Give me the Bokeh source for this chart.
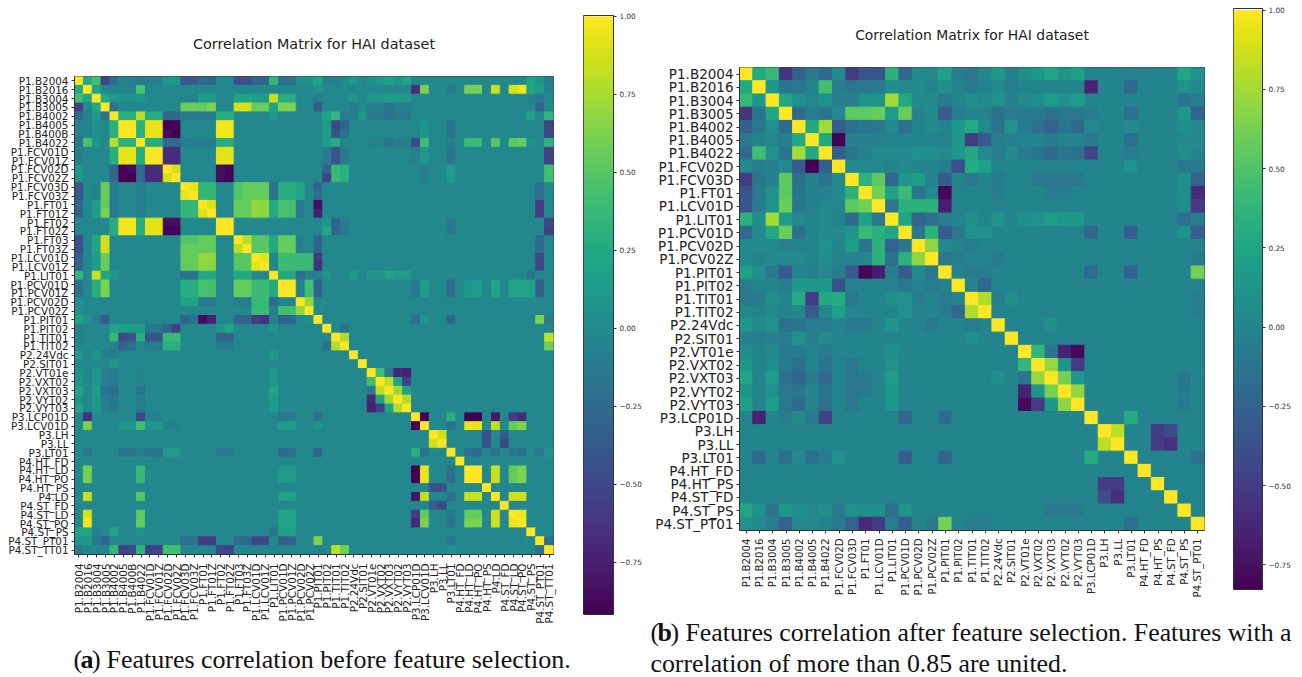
import math
import numpy as np
from bokeh.embed import file_html
from bokeh.resources import INLINE
from bokeh.plotting import figure
from bokeh.layouts import row, column
from bokeh.models import (ColumnDataSource, FactorRange, FixedTicker, Label,
                          LinearColorMapper, LinearAxis, Range1d)
from bokeh.palettes import Viridis256

labels_a = ["P1.B2004","P1.B2016","P1.B3004","P1.B3005","P1.B4002","P1.B4005","P1.B400B","P1.B4022",
    "P1.FCV01D","P1.FCV01Z","P1.FCV02D","P1.FCV02Z","P1.FCV03D","P1.FCV03Z","P1.FT01","P1.FT01Z",
    "P1.FT02","P1.FT02Z","P1.FT03","P1.FT03Z","P1.LCV01D","P1.LCV01Z","P1.LIT01","P1.PCV01D","P1.PCV01Z",
    "P1.PCV02D","P1.PCV02Z","P1.PIT01","P1.PIT02","P1.TIT01","P1.TIT02","P2.24Vdc","P2.SIT01","P2.VT01e",
    "P2.VXT02","P2.VXT03","P2.VYT02","P2.VYT03","P3.LCP01D","P3.LCV01D","P3.LH","P3.LL","P3.LT01",
    "P4.HT_FD","P4.HT_LD","P4.HT_PO","P4.HT_PS","P4.LD","P4.ST_FD","P4.ST_LD","P4.ST_PO","P4.ST_PS",
    "P4.ST_PT01","P4.ST_TT01"]
labels_b = ["P1.B2004","P1.B2016","P1.B3004","P1.B3005","P1.B4002","P1.B4005","P1.B4022","P1.FCV02D",
    "P1.FCV03D","P1.FT01","P1.LCV01D","P1.LIT01","P1.PCV01D","P1.PCV02D","P1.PCV02Z","P1.PIT01","P1.PIT02",
    "P1.TIT01","P1.TIT02","P2.24Vdc","P2.SIT01","P2.VT01e","P2.VXT02","P2.VXT03","P2.VYT02","P2.VYT03",
    "P3.LCP01D","P3.LH","P3.LL","P3.LT01","P4.HT_FD","P4.HT_PS","P4.ST_FD","P4.ST_PS","P4.ST_PT01"]

background_a = -0.02
background_b = 0.0
low_a, low_b = -0.917, -0.828
cbar_ticks = [-0.75, -0.5, -0.25, 0.0, 0.25, 0.5, 0.75, 1.0]
cbar_labels = {-0.75: "\u22120.75", -0.5: "\u22120.50", -0.25: "\u22120.25", 0.0: "0.00",
               0.25: "0.25", 0.5: "0.50", 0.75: "0.75", 1.0: "1.00"}

# (rows, cols, correlation), upper triangle only
cells_a = [
 ((0,),(1,),.25),((0,),(2,),.42),((0,),(3,),-.55),((0,),(4,),-.25),((0,),(5,6),-.08),((0,),(7,),-.15),((0,),(8,9),-.1),
 ((0,),(10,11),.1),((0,),(12,13),-.4),((0,),(14,),-.25),((0,),(15,),-.3),((0,),(18,19),-.45),((0,),(20,21),-.3),((0,),(22,),.35),
 ((0,),(23,24),-.2),((0,),(25,26),.05),((0,),(27,),.2),((0,),(28,29),-.08),((0,),(31,),.12),((0,),(33,),.05),((0,),(34,),.08),
 ((0,),(35,),.2),((0,),(36,),.1),((0,),(37,),.2),((0,),(51,),.2),((0,),(52,),.1),((0,),(53,),-.12),
 ((1,),(2,),.2),((1,),(4,5,6),-.05),((1,),(7,),.45),((1,),(27,),.05),((1,),(38,),-.65),((1,),(39,),.62),((1,),(42,),-.15),
 ((1,),(44,45),.6),((1,),(47,),.85),((1,),(49,),.9),((1,),(50,),.96),((1,),(51,),.2),((1,),(52,),.12),((1,),(53,),-.05),
 ((2,),(3,),.25),((2,),(4,),.12),((2,),(5,6),.05),((2,),(7,),.1),((2,),(12,13),-.05),((2,),(14,15),.15),((2,),(18,19),.2),
 ((2,),(20,21),.15),((2,),(22,),.85),((2,),(23,24),.28),((2,),(27,),-.1),((2,),(31,),.1),((2,),(33,34),.08),((2,),(35,),.15),
 ((2,),(36,37),.13),((2,),(51,),-.08),((2,),(52,),-.15),
 ((3,),(4,),-.2),((3,),(12,13),.56),((3,),(14,),.55),((3,),(15,),.62),((3,),(18,19),.88),((3,),(20,21),.57),((3,),(22,),.2),
 ((3,),(23,24),.62),((3,),(27,),-.35),((3,),(31,),-.1),((3,),(33,34,36,37),-.1),((3,),(35,),-.17),((3,),(52,),-.3),
 ((4,),(5,6),.3),((4,),(7,),.8),((4,),(8,9),.28),((4,),(10,11),-.28),((4,),(12,13,14,15),-.12),((4,),(16,17),.28),((4,),(22,),.1),
 ((4,),(28,),.2),((4,),(29,),.35),((4,),(30,),-.1),((4,),(31,),-.1),((4,),(32,),.1),((4,),(33,34),-.12),((4,),(35,),-.22),
 ((4,),(36,37),-.15),((4,),(51,),.2),((4,),(53,),.35),
 ((5,),(6,),.99),((5,6),(7,),.3),((5,6),(8,9),.93),((5,),(10,),-.92),((5,),(11,),-.88),((6,),(10,),-.85),((6,),(11,),-.92),
 ((5,6),(16,17),.97),((5,6),(28,),.15),((5,),(29,),-.5),((6,),(29,),-.42),((5,),(30,),-.3),((6,),(30,),-.2),((5,6),(39,),.08),
 ((5,6),(42,),-.17),((5,),(53,),-.55),((6,),(53,),-.5),
 ((7,),(8,9),.28),((7,),(10,11),-.25),((7,),(12,13,14,15),-.1),((7,),(16,17),.28),((7,),(28,),.15),((7,),(29,),.28),
 ((7,),(33,34),-.07),((7,),(35,),-.17),((7,),(36,37),-.1),((7,),(38,),-.5),((7,),(39,),.42),((7,),(42,),-.1),((7,),(44,45),.38),
 ((7,),(47,),.5),((7,),(49,),.52),((7,),(50,),.55),((7,),(51,),.05),((7,),(53,),.33),
 ((8,),(9,),.99),((8,9),(10,11),-.67),((8,9),(16,17),.92),((8,9),(28,),-.15),((8,9),(29,),-.42),((8,9),(30,),-.12),((8,9),(42,),-.18),
 ((8,9),(38,),-.08),((8,9),(39,),.08),((8,9),(53,),-.55),
 ((10,),(11,),.88),((10,11),(16,),-.85),((10,11),(17,),-.9),((10,),(28,),-.3),((11,),(28,),-.55),((10,11),(29,),.38),((10,11),(30,),.3),
 ((10,11),(39,),-.08),((10,11),(42,),.14),((10,11),(53,),.42),
 ((12,),(13,),.93),((12,13),(14,15),.35),((12,13),(18,),.48),((12,13),(19,),.55),((12,),(20,21),.55),((13,),(20,21),.55),((12,13),(22,),-.2),
 ((12,13),(23,24),.28),((12,13),(25,),.2),((12,),(27,),-.3),((13,),(27,),-.22),((12,13),(52,),-.22),
 ((14,),(15,),.9),((14,15),(18,19),.55),((14,15),(20,),.7),((14,15),(21,),.67),((14,15),(22,),.25),((14,15),(23,24),.44),((14,15),(25,),-.12),
 ((14,),(27,),-.85),((15,),(27,),-.75),((14,15),(52,),-.58),
 ((16,),(17,),1.0),((16,17),(28,),.08),((17,),(28,),.22),((16,17),(29,),-.3),((16,17),(30,),-.12),((16,17),(42,),-.15),((16,),(53,),-.5),((17,),(53,),-.55),
 ((18,),(19,),.8),((18,19),(20,21),.5),((18,19),(22,),.25),((18,19),(23,24),.55),((18,19),(25,),-.1),((18,19),(27,),-.3),((18,19),(52,),-.25),
 ((20,),(21,),.92),((20,21),(23,24),.4),((20,21),(25,26),.38),((20,),(27,),-.6),((21,),(27,),-.65),((20,21),(52,),-.5),
 ((22,),(23,24),.25),((22,),(25,),-.25),((22,),(26,),-.1),((22,),(27,),-.08),((22,),(28,),.08),((22,),(31,),.12),((22,),(33,34),.1),((22,),(35,),.2),
 ((22,),(36,37),.14),((22,),(51,),-.17),
 ((23,),(24,),.98),((23,24),(25,),-.05),((23,24),(26,),.42),((23,24),(27,),-.3),((23,24),(38,),-.15),((23,24),(39,),.15),((23,24),(42,),-.25),
 ((23,24),(44,45),.12),((23,24),(47,),.2),((23,24),(49,50),.2),((23,24),(51,),.18),((23,24),(52,),-.32),
 ((25,),(26,),.7),((26,),(27,),.02),
 ((27,),(38,),-.2),((27,),(39,),.08),((27,),(42,),-.3),((27,),(52,),.62),((27,),(53,),-.1),
 ((28,),(30,),-.2),((29,),(30,),.78),((29,),(53,),.82),((30,),(53,),.58),
 ((33,),(34,),.42),((33,),(35,),-.15),((33,),(36,),-.7),((33,),(37,),-.75),
 ((34,),(35,),.82),((34,),(36,),.2),((34,),(37,),-.55),((35,),(36,),.72),((35,),(37,),.2),((36,),(37,),.78),
 ((38,),(39,),-.9),((38,),(42,),.3),((38,),(44,45),-.92),((38,),(47,),-.8),((38,),(49,),-.58),((38,),(50,),-.68),
 ((39,),(42,),-.2),((39,),(44,45),.93),((39,),(47,),.83),((39,),(49,),.55),((39,),(50,),.62),
 ((40,),(41,),.88),((40,),(46,),-.45),((40,),(48,),-.35),((41,),(46,),-.45),((41,),(48,),-.5),
 ((42,),(44,),-.2),((42,),(45,),-.25),((42,),(47,),-.2),((42,),(49,),-.15),((42,),(50,),-.2),((42,),(52,),-.15),((42,),(53,),.05),
 ((44,),(45,),.98),((44,45),(47,),.85),((44,45),(49,),.55),((44,45),(50,),.62),
 ((47,),(49,50),.86),((49,),(50,),.95),((52,),(53,),-.2),
]

# the right picture, same form
cells_b = [
 ((0,),(1,),.28),((0,),(2,),.4),((0,),(3,),-.55),((0,),(4,),-.25),((0,),(5,),-.1),((0,),(6,),-.2),((0,),(7,),.05),((0,),(8,),-.5),
 ((0,),(9,10),-.35),((0,),(11,),.35),((0,),(12,),-.2),((0,),(13,14),.05),((0,),(15,),.22),((0,),(16,),-.05),((0,),(17,),-.1),((0,),(18,),.02),
 ((0,),(19,),.15),((0,),(20,),-.03),((0,),(21,),.08),((0,),(22,),.15),((0,),(23,),.25),((0,),(24,),.12),((0,),(25,),.22),((0,),(33,),.25),((0,),(34,),.1),
 ((1,),(2,),.15),((1,),(3,),-.12),((1,),(4,),-.1),((1,),(6,),.45),((1,),(7,),-.05),((1,),(8,9),-.1),((1,),(10,),-.05),((1,),(11,),.08),((1,),(12,),.03),
 ((1,),(13,),.05),((1,),(15,),.07),((1,),(17,),-.08),((1,),(19,),.05),((1,),(20,),-.05),((1,),(26,),-.65),((1,),(29,),-.2),((1,),(33,),.1),((1,),(34,),.03),
 ((2,),(3,),.25),((2,),(4,),.1),((2,),(5,),.02),((2,),(6,),.1),((2,),(7,8),-.03),((2,),(9,),.1),((2,),(10,),.12),((2,),(11,),.75),((2,),(12,),.28),
 ((2,),(13,14),.03),((2,),(15,),-.08),((2,),(17,),.08),((2,),(18,),.03),((2,),(19,),.1),((2,),(20,),-.03),((2,),(21,),.05),((2,),(22,),.08),((2,),(23,),.18),
 ((2,),(24,),.1),((2,),(25,),.18),((2,),(33,),-.12),((2,),(34,),-.05),
 ((3,),(4,),-.18),((3,),(5,),-.05),((3,),(6,),-.12),((3,),(7,),.03),((3,),(8,9),.55),((3,),(10,),.58),((3,),(11,),.18),((3,),(12,),.58),((3,),(13,),-.02),
 ((3,),(14,),.05),((3,),(15,),-.3),((3,),(16,),-.05),((3,),(19,),-.15),((3,),(20,),-.05),((3,),(21,22),-.07),((3,),(23,),-.15),((3,),(24,25),-.1),
 ((3,),(26,),-.05),((3,),(29,),-.15),((3,),(33,),.15),((3,),(34,),-.25),
 ((4,),(5,),.28),((4,),(6,),.75),((4,),(7,),-.3),((4,),(8,),-.15),((4,),(9,),-.12),((4,),(10,),-.1),((4,),(11,),.03),((4,),(12,),-.15),((4,),(14,),.03),
 ((4,),(16,),.15),((4,),(17,),.3),((4,),(18,),.02),((4,),(19,),-.12),((4,),(20,),.1),((4,),(21,),-.08),((4,),(22,),-.15),((4,),(23,),-.25),((4,),(24,),-.12),
 ((4,),(25,),-.18),((4,),(26,),.03),((4,),(29,),.03),((4,),(33,),.08),((4,),(34,),.03),
 ((5,),(6,),.28),((5,),(7,),-.82),((5,),(8,9,10),-.03),((5,),(15,),-.03),((5,),(16,),.15),((5,),(17,),-.5),((5,),(18,),-.3),((5,),(19,),-.05),((5,),(20,),-.03),
 ((5,),(23,),-.08),((5,),(26,),-.08),((5,),(29,),-.15),((5,),(33,34),.03),
 ((6,),(7,),-.28),((6,),(8,),-.12),((6,),(9,),-.03),((6,),(10,),.02),((6,),(11,12),.03),((6,),(13,),.1),((6,),(14,),.08),((6,),(15,),.03),((6,),(16,),.15),
 ((6,),(17,),.28),((6,),(18,),.03),((6,),(19,),-.05),((6,),(20,),.05),((6,),(21,),-.08),((6,),(22,),-.12),((6,),(23,),-.2),((6,),(24,),-.12),((6,),(25,),-.15),
 ((6,),(26,),-.45),((6,),(29,),-.08),((6,),(33,),.08),
 ((7,),(8,),.05),((7,),(9,),.03),((7,),(10,),.02),((7,),(12,),.05),((7,),(15,),-.05),((7,),(16,),-.38),((7,),(17,),.3),((7,),(18,),.22),((7,),(29,),.1),
 ((7,),(33,34),-.08),
 ((8,),(9,),.35),((8,),(10,),.55),((8,),(11,),-.2),((8,),(12,),.13),((8,),(13,),.2),((8,),(14,),-.02),((8,),(15,),-.3),((8,),(17,),-.1),((8,),(19,),-.08),
 ((8,),(22,23),-.1),((8,),(24,25),-.1),((8,),(33,),.1),((8,),(34,),-.25),
 ((9,),(10,),.62),((9,),(11,),.22),((9,),(12,),.42),((9,),(13,),-.12),((9,),(14,),.02),((9,),(15,),-.8),((9,),(19,),-.08),((9,),(23,24),-.08),((9,),(33,),.08),((9,),(34,),-.6),
 ((10,),(11,),-.1),((10,),(12,13,14),.35),((10,),(15,),-.68),((10,),(33,),.08),((10,),(34,),-.52),
 ((11,),(12,),.25),((11,),(13,),-.25),((11,),(14,),-.15),((11,),(15,),-.05),((11,),(17,),.08),((11,),(19,),.12),((11,),(21,),.08),((11,),(22,),.1),((11,),(23,),.2),
 ((11,),(24,25),.15),((11,),(33,),-.15),((11,),(34,),-.05),
 ((12,),(13,),-.1),((12,),(14,),.35),((12,),(15,),-.3),((12,),(16,),-.1),((12,),(17,18),.1),((12,),(26,),-.22),((12,),(29,),-.28),((12,),(33,),.12),((12,),(34,),-.28),
 ((13,),(14,),.7),((13,),(15,),.03),((13,),(17,),-.05),
 ((14,),(15,),-.1),((14,),(16,),-.05),((14,),(19,),-.08),((14,),(34,),-.08),
 ((15,),(17,18),-.05),((15,),(26,),-.18),((15,),(29,),-.25),((15,),(34,),.62),
 ((16,),(18,),-.22),((17,),(18,),.78),((17,),(19,),-.05),((17,),(20,),.08),((17,),(34,),-.05),((18,),(34,),-.05),
 ((19,),(23,),.08),((21,),(22,),.38),((21,),(23,),-.12),((21,),(24,),-.65),((21,),(25,),-.78),
 ((22,),(23,),.72),((22,),(24,),.12),((22,),(25,),-.5),((23,),(24,),.62),((23,),(25,),.15),((24,),(25,),.7),
 ((23,),(33,),-.1),((24,),(33,),-.07),((25,),(33,),-.08),
 ((26,),(29,),.3),((27,),(28,),.82),((27,),(31,),-.5),((27,),(32,),-.4),((28,),(31,),-.5),((28,),(32,),-.58),((29,),(34,),-.15),
]


def cell_source(labels, cells, background):
    n = len(labels)
    vals = [[background] * n for _ in range(n)]
    for i in range(n):
        vals[i][i] = 1.0
    for rows, cols, v in cells:
        for r in rows:
            for c in cols:
                vals[r][c] = v
                vals[c][r] = v
    xs, ys, zs = [], [], []
    for r in range(n):
        for c in range(n):
            xs.append(labels[c]); ys.append(labels[r]); zs.append(vals[r][c])
    return ColumnDataSource(dict(x=xs, y=ys, z=zs))


def heat(labels, cells, background, low, width, height, border, ysize, xsize, title_size, standoff, xstandoff):
    left, right, top, bottom = border
    mapper = LinearColorMapper(palette=Viridis256, low=low, high=1.0)
    p = figure(width=width, height=height, output_backend="svg", toolbar_location=None,
               x_range=FactorRange(factors=labels, range_padding=0, factor_padding=0),
               y_range=FactorRange(factors=labels[::-1], range_padding=0, factor_padding=0),
               min_border_left=left, min_border_right=right, min_border_top=top, min_border_bottom=bottom,
               title="Correlation Matrix for HAI dataset", tools="", frame_align=False)
    p.title.align = "center"
    p.title.text_font = "DejaVu Sans"
    p.title.text_font_style = "normal"
    p.title.text_font_size = title_size
    p.title.text_color = "#222222"
    p.title.standoff = standoff
    p.rect(x="x", y="y", width=1, height=1, source=cell_source(labels, cells, background),
           fill_color={"field": "z", "transform": mapper},
           line_color={"field": "z", "transform": mapper}, line_width=1)
    p.grid.visible = False
    p.outline_line_color = "#333333"
    for ax, size in ((p.xaxis[0], xsize), (p.yaxis[0], ysize)):
        ax.major_label_text_font = "DejaVu Sans"
        ax.major_label_text_font_size = size
        ax.major_label_text_color = "#222222"
        ax.major_tick_out = 3
        ax.major_tick_in = 0
        ax.axis_line_color = "#333333"
        ax.major_tick_line_color = "#333333"
        ax.major_label_standoff = 3
    p.xaxis[0].major_label_orientation = math.pi / 2
    p.xaxis[0].major_label_standoff = xstandoff
    return p, mapper


def colorbar(mapper, width, height, border, high):
    left, right, top, bottom = border
    p = figure(width=width, height=height, output_backend="svg", toolbar_location=None, tools="",
               x_range=Range1d(0, 1), y_range=Range1d(mapper.low, high),
               x_axis_location=None, y_axis_location=None, frame_align=False,
               min_border_left=left, min_border_right=right, min_border_top=top, min_border_bottom=bottom)
    p.grid.visible = False
    p.outline_line_color = "#333333"
    scale = np.linspace(mapper.low, mapper.high, 256).reshape(256, 1)
    p.image(image=[scale], x=0, y=mapper.low, dw=1, dh=mapper.high - mapper.low, color_mapper=mapper)
    ax = LinearAxis(ticker=FixedTicker(ticks=cbar_ticks), major_label_overrides=cbar_labels,
                    major_label_text_font="DejaVu Sans", major_label_text_font_size="7.3px",
                    major_label_text_color="#333333", major_tick_in=0, major_tick_out=3,
                    major_tick_line_color="#333333", axis_line_color="#333333", minor_tick_line_color=None,
                    major_label_standoff=3)
    p.add_layout(ax, "right")
    return p


def caption(width, height, lines, size):
    p = figure(width=width, height=height, output_backend="svg", toolbar_location=None, tools="",
               x_range=Range1d(0, width), y_range=Range1d(height, 0), frame_align=False,
               min_border_left=0, min_border_right=0, min_border_top=0, min_border_bottom=0)
    p.xaxis.visible = False
    p.yaxis.visible = False
    p.grid.visible = False
    p.outline_line_color = None
    for x, y, text, style in lines:
        p.add_layout(Label(x=x, y=y, text=text, text_font="Liberation Serif", text_font_size=size,
                           text_font_style=style, text_color="#111111", text_baseline="alphabetic"))
    return p


p1, map1 = heat(labels_a, cells_a, background_a, low_a, 575, 640, (74, 22, 76, 86), "10.4px", "10.4px", "14.4px", 50, 6)
cb1 = colorbar(map1, 70, 640, (8, 32, 15, 26), 1.003)
p2, map2 = heat(labels_b, cells_b, background_b, low_b, 580, 618, (94, 21, 66, 88), "13.5px", "10.2px", "13.9px", 49, 5)
cb2 = colorbar(map2, 77, 618, (8, 40, 8, 29), 1.005)

cap1 = caption(645, 37, [(73, 19, "(", "normal"), (80, 19, "a", "bold"), (91.5, 19, ")", "normal"),
                         (106, 19, "Features correlation before feature selection.", "normal")], "26px")
cap2 = caption(657, 59, [(5, 14, "(", "normal"), (12, 14, "b", "bold"), (25, 14, ")", "normal"),
                         (40, 14, "Features correlation after feature selection. Features with a", "normal"),
                         (5, 45, "correlation of more than 0.85 are united.", "normal")], "25.8px")

page = row(column(row(p1, cb1, spacing=0), cap1, spacing=0),
           column(row(p2, cb2, spacing=0), cap2, spacing=0), spacing=0)

open("out.html", "w").write(file_html(page, INLINE))
